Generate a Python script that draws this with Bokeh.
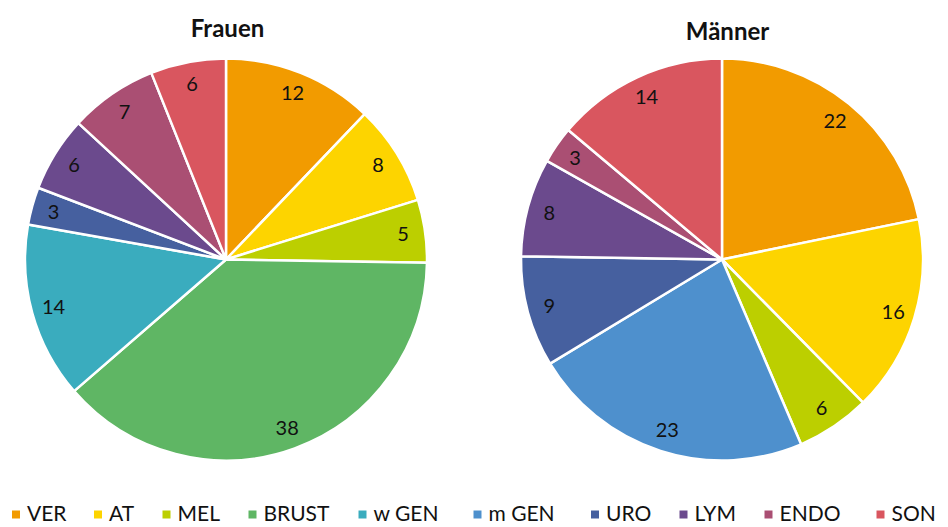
import math
from bokeh.plotting import figure
from bokeh.models import Range1d, ColumnDataSource
from bokeh.core.properties import value
from bokeh.embed import file_html
from bokeh.resources import INLINE

# ---- data ----
categories = ["VER", "AT", "MEL", "BRUST", "w GEN", "m GEN", "URO", "LYM", "ENDO", "SON"]
colors = ["#F29B00", "#FDD400", "#BCCF00", "#5FB664", "#3AACBE",
          "#4E90CD", "#46609F", "#6B4A8D", "#AA4F73", "#D9565F"]
frauen_values = [12, 8, 5, 38, 14, 0, 3, 6, 7, 6]
maenner_values = [22, 16, 6, 0, 0, 23, 9, 8, 3, 14]
titles = ["Frauen", "Männer"]

# ---- layout (page pixel coords; y converted below) ----
W, H = 948, 527
FONT = "Lato"

def Y(page_y):
    return H - page_y

p = figure(width=W, height=H, output_backend="svg", toolbar_location=None,
           x_range=Range1d(0, W), y_range=Range1d(0, H), min_border=0)
p.axis.visible = False
p.grid.visible = False
p.outline_line_color = None
p.background_fill_color = "white"

def draw_pie(vals, cx, cy, r, title, tx, ty):
    total = sum(vals)
    cum = 0
    starts, ends, cols, lx, ly, lt = [], [], [], [], [], []
    for v, c in zip(vals, colors):
        if v <= 0:
            continue
        a0 = math.pi / 2 - 2 * math.pi * cum / total
        a1 = math.pi / 2 - 2 * math.pi * (cum + v) / total
        mid = (a0 + a1) / 2
        starts.append(a0); ends.append(a1); cols.append(c)
        lx.append(cx + 0.89 * r * math.cos(mid))
        ly.append(Y(cy) + 0.89 * r * math.sin(mid))
        lt.append(str(v))
        cum += v
    src = ColumnDataSource(dict(s=starts, e=ends, c=cols))
    p.wedge(x=cx, y=Y(cy), radius=r, start_angle="s", end_angle="e",
            direction="clock", fill_color="c", line_color="white",
            line_width=2.5, source=src)
    p.text(x=lx, y=ly, text=lt, text_font=value(FONT), text_font_size="20px",
           text_align="center", text_baseline="middle", text_color="#111111")
    p.text(x=[tx], y=[Y(ty)], text=[title], text_font=value(FONT),
           text_font_size="24px", text_font_style="bold",
           text_align="center", text_baseline="middle", text_color="#111111")

draw_pie(frauen_values, 225.5, 259, 201, titles[0], 227, 27)
draw_pie(maenner_values, 721.5, 259, 201, titles[1], 727, 30)

# legend
legend_x = [15.5, 97.5, 166, 252, 362, 477, 594.5, 683, 768, 880]
ly = Y(512)
p.rect(x=legend_x, y=[Y(514)] * len(legend_x), width=8, height=8,
       fill_color=colors, line_color=None)
p.text(x=[x + 11 for x in legend_x], y=[ly] * len(legend_x), text=categories,
       text_font=value(FONT), text_font_size="21px", text_align="left",
       text_baseline="middle", text_color="#111111")

open("out.html", "w").write(file_html(p, INLINE))
